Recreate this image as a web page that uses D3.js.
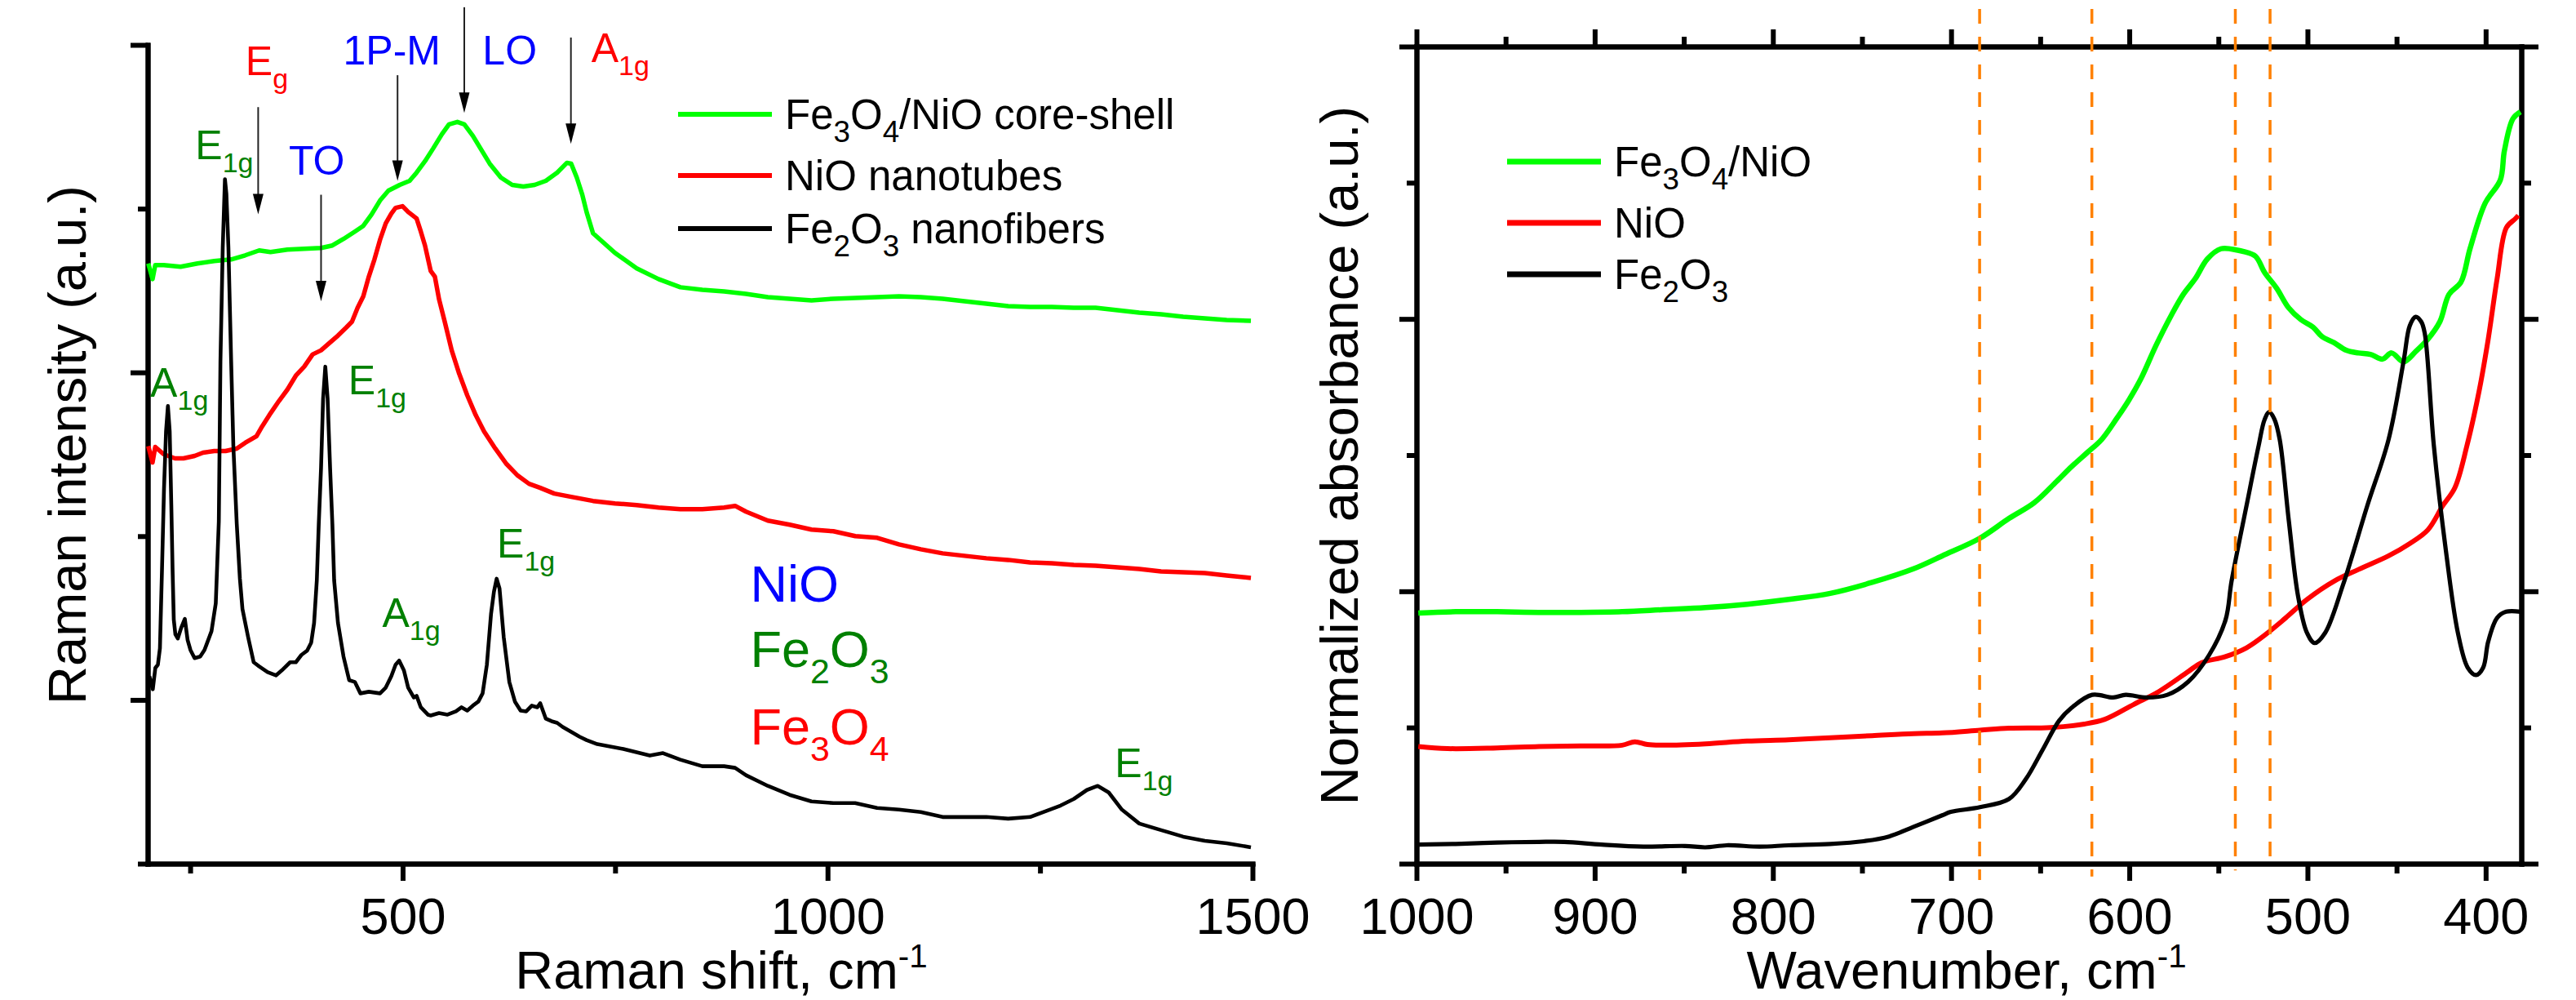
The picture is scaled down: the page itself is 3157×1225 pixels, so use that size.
<!DOCTYPE html>
<html>
<head>
<meta charset="utf-8">
<script src="https://cdn.jsdelivr.net/npm/d3@7"></script>
<style>
  body { margin: 0; background: #fff; }
  text { font-family: "Liberation Sans", Arial, sans-serif; }
</style>
</head>
<body>
<div id="chart-area"></div>
<script>
/*
*    Raman spectra (left) and absorbance spectra (right)
*/

// ---- Raman data (x in cm-1, y in a.u.)
var ramanCoreShellX = [200.7, 205.7, 208.9, 218.9, 238.7, 258.6, 278.3, 298.2, 314.7, 331.2,
  344.5, 364.4, 384.2, 404, 417.3, 430.4, 443.7, 453.7, 463.5, 473.4,
  483.3, 496.6, 508.2, 516.4, 526.3, 536.2, 546.2, 554.5, 564.4, 572.6,
  582.6, 592.5, 602.4, 615.6, 628.9, 642, 655.3, 668.5, 681.8, 693.3,
  698.3, 704.9, 711.4, 716.4, 724, 749.8, 775.4, 801.1, 826.8, 852.6,
  878.3, 904, 929.7, 955.4, 981.1, 1006.8, 1032.6, 1058.3, 1084, 1109.7,
  1135.4, 1161.1, 1186.8, 1212.5, 1238.3, 1263.8, 1289.7, 1315.3, 1341.1, 1366.8,
  1392.4, 1418.4, 1443.9, 1469.6, 1498.1];
var ramanCoreShellY = [733, 714, 731, 731, 729, 733, 736, 738, 743, 749,
  747, 750, 751, 752, 755, 763, 772, 779, 793, 810,
  822, 829, 834, 844, 858, 874, 891, 903, 906, 903,
  889, 872, 855, 838, 829, 827, 829, 834, 844, 856,
  855, 838, 817, 796, 770, 746, 727, 714, 704, 701,
  699, 696, 692, 690, 688, 690, 691, 692, 693, 692,
  690, 687, 684, 681, 680, 680, 679, 679, 676, 673,
  671, 668, 666, 664, 663];

var ramanNiOX = [200.7, 205.7, 208.9, 218.9, 232.1, 242.1, 255.2, 265.2, 278.3, 291.6,
  304.8, 314.7, 328, 334.6, 344.5, 354.4, 364.4, 374.3, 384.2, 394.1,
  404, 413.9, 423.9, 433.8, 440.4, 447, 453.7, 460.2, 466.8, 473.4,
  480.1, 486.7, 491.7, 499.9, 506.5, 516.4, 521.4, 526.3, 533, 537.9,
  542.9, 549.5, 557.7, 566, 576, 585.9, 595.8, 609, 622.3, 635.4,
  648.7, 661.9, 678.4, 698.3, 724, 749.8, 775.4, 801.1, 826.8, 852.6,
  878.3, 891.2, 904, 929.7, 955.4, 981.1, 1006.8, 1032.6, 1058.3, 1084,
  1109.7, 1135.4, 1161.1, 1186.8, 1212.5, 1238.3, 1263.8, 1289.7, 1315.3, 1341.1,
  1366.8, 1392.4, 1418.4, 1443.9, 1469.6, 1498.1];
var ramanNiOY = [510, 490, 509, 500, 495, 495, 498, 502, 504, 504,
  507, 514, 522, 534, 550, 565, 579, 596, 607, 622,
  627, 636, 645, 655, 662, 679, 693, 717, 738, 762,
  782, 794, 801, 803, 796, 788, 772, 755, 724, 717,
  689, 662, 627, 600, 572, 548, 528, 507, 488, 474,
  464, 459, 452, 448, 443, 440, 438, 435, 433, 433,
  435, 437, 430, 419, 414, 408, 406, 400, 398, 390,
  384, 379, 376, 373, 371, 368, 367, 365, 364, 362,
  360, 357, 356, 355, 352, 349];

var ramanFe2O3X = [202, 206, 209, 212, 214.4, 216.8, 219.2, 221.6, 223.8, 225.9,
  227.8, 229.3, 230.7, 232.6, 235.4, 239.4, 243.7, 247, 250.3, 255.2,
  261.8, 266.8, 270.1, 275.1, 280.1, 283.7, 285.6, 288.3, 290.9, 292.6,
  295, 298.2, 300.8, 304.8, 308.5, 311.5, 318.1, 324.7, 331.2, 341.1,
  351.1, 357.7, 367.6, 374.3, 380.9, 387.5, 392.4, 395.8, 399, 401.3,
  404, 406.4, 409, 411.7, 414.6, 417.3, 419.4, 423.9, 430.4, 437.1,
  443.7, 450.3, 460.2, 473.4, 480.1, 486.7, 491.7, 495.9, 501.5, 506.5,
  513.1, 516.4, 521.4, 529.7, 533, 542.8, 552.8, 562.7, 569.3, 576,
  582.6, 589.1, 594.1, 599.1, 604, 607.4, 610.6, 614, 618.9, 625.5,
  632.1, 638.8, 645.4, 652, 658.5, 661.9, 668.5, 675.2, 681.8, 688.3,
  698.3, 708.2, 716.4, 729, 759.7, 790.8, 806.3, 826.8, 852.6, 878.3,
  891.2, 904, 929.7, 955.4, 981.1, 1006.8, 1032.4, 1058.3, 1084, 1109.7,
  1135.4, 1161.1, 1186.8, 1212.5, 1238.3, 1253.7, 1274.2, 1289.7, 1305.1, 1317.9,
  1330.8, 1346.3, 1366.8, 1392.4, 1418.4, 1443.9, 1469.7, 1498.1];
var ramanFe2O3Y = [229, 213, 239, 243, 263, 358, 458, 528, 559, 528,
  438, 358, 298, 280, 275, 288, 299, 273, 261, 251,
  253, 261, 270, 284, 318, 418, 614, 752, 836, 818,
  752, 614, 510, 415, 348, 311, 277, 246, 241, 234,
  230, 236, 246, 246, 255, 260, 270, 294, 346, 415,
  484, 568, 607, 568, 484, 415, 346, 294, 253, 224,
  222, 208, 210, 208, 215, 229, 243, 248, 236, 215,
  203, 205, 191, 182, 181, 184, 182, 186, 191, 187,
  193, 198, 208, 243, 305, 332, 348, 336, 277, 222,
  198, 187, 186, 193, 191, 196, 177, 174, 172, 167,
  161, 155, 151, 146, 140, 132, 135, 127, 119, 119,
  117, 108, 95, 84, 76, 74, 74, 68, 66, 63,
  57, 57, 57, 55, 57, 63, 71, 79, 90, 95,
  87, 66, 49, 41, 33, 28, 25, 20];

var ramanLegend = ["Fe_{3}O_{4}/NiO core-shell", "NiO nanotubes", "Fe_{2}O_{3} nanofibers"];
var ramanMajorTicks = [500, 1000, 1500];
var ramanMinorTicks = [250, 750, 1250];
var ramanYMajor = [200, 600, 1000];
var ramanYMinor = [0, 400, 800];

// peak assignments: text, position (cm-1, a.u.) and phase
var peakText = ["E_{g}", "1P-M", "LO", "A_{1g}", "E_{1g}", "TO", "A_{1g}", "E_{1g}", "A_{1g}", "E_{1g}", "E_{1g}"];
var peakX = [315, 430, 594, 722, 256, 366, 203, 436, 476, 611, 1338];
var peakY = [963, 976, 976, 979, 860, 841, 570, 573, 289, 374, 106];
var peakPhase = ["Fe3O4", "NiO", "NiO", "Fe3O4", "Fe2O3", "NiO", "Fe2O3", "Fe2O3", "Fe2O3", "Fe2O3", "Fe2O3"];
var phaseNames = ["NiO", "Fe2O3", "Fe3O4"];
var phaseText = ["NiO", "Fe_{2}O_{3}", "Fe_{3}O_{4}"];
var phaseX = [909, 909, 909];
var phaseY = [320, 240, 146];

var arrowX = [330, 404, 494, 572.5, 698];
var arrowTop = [924, 817, 963, 1046, 1009];
var arrowTip = [793, 687, 834, 917, 879];

// ---- absorbance data (x in cm-1, y normalized)
var uvCoreShellX = [999, 978, 954.7, 931.3, 907.9, 884.6, 861.2, 837.9, 814.5, 791.1,
  767.8, 744.4, 721.1, 705, 683.8, 667.5, 653.4, 640.9, 632.4, 623.9,
  615.5, 607, 600.2, 593.5, 585, 576.5, 569.7, 563, 556.2, 548.6,
  539.2, 535.9, 529.2, 524, 517.3, 510.5, 503.7, 496.9, 491.8, 485,
  478.3, 471.4, 464.7, 457.9, 452.8, 446.1, 439.3, 432.5, 425.7, 420.6,
  413.9, 408.8, 400.3, 391.8, 389.5, 384.7, 380.5];
var uvCoreShellY = [0.368, 0.370, 0.370, 0.369, 0.369, 0.370, 0.373, 0.376, 0.381, 0.388,
  0.397, 0.413, 0.433, 0.452, 0.478, 0.507, 0.530, 0.561, 0.583, 0.603,
  0.623, 0.654, 0.681, 0.712, 0.761, 0.805, 0.836, 0.859, 0.888, 0.903,
  0.901, 0.899, 0.892, 0.868, 0.845, 0.816, 0.799, 0.788, 0.774, 0.765,
  0.754, 0.750, 0.748, 0.741, 0.750, 0.737, 0.752, 0.770, 0.796, 0.836,
  0.854, 0.903, 0.970, 1.004, 1.047, 1.094, 1.104];

var uvNiOX = [999, 982.6, 954.7, 931.3, 907.9, 884.6, 877.5, 870.4, 861.2, 837.9,
  814.5, 791.1, 767.8, 744.4, 721.1, 705, 683.8, 667.5, 644.1, 625.3,
  613.7, 597.4, 583.3, 567, 559.6, 546.1, 534.2, 522.3, 512.2, 500.3,
  485, 471.4, 454.5, 442.7, 432.5, 424, 417.3, 410.5, 403.7, 398.6,
  393.6, 388.4, 383.4, 381.7];
var uvNiOY = [0.172, 0.169, 0.170, 0.172, 0.173, 0.174, 0.179, 0.175, 0.174, 0.176,
  0.180, 0.182, 0.185, 0.188, 0.191, 0.192, 0.196, 0.199, 0.200, 0.205,
  0.212, 0.234, 0.253, 0.282, 0.295, 0.304, 0.317, 0.339, 0.361, 0.388,
  0.415, 0.432, 0.452, 0.470, 0.490, 0.526, 0.552, 0.614, 0.694, 0.770,
  0.859, 0.934, 0.947, 0.952];

var uvFe2O3X = [999, 978, 954.7, 931.3, 917.1, 896, 872.7, 849.3, 837.9, 826,
  807.4, 791.1, 767.8, 749, 734.8, 721.1, 705, 700.2, 683.8, 667.5,
  658.1, 648.7, 639.4, 632.4, 620.8, 609, 602, 590.4, 578.6, 567,
  555.3, 546, 542.6, 534.2, 527.4, 524.1, 521.5, 518.6, 515.6, 510.5,
  505.3, 500.3, 496, 490.1, 480, 466.4, 454.5, 446, 442.6, 439.3,
  436.2, 434.2, 429.1, 422.3, 415.6, 410.1, 405.4, 401.4, 398.6, 393.6,
  388.5, 380.5];
var uvFe2O3Y = [0.028, 0.029, 0.031, 0.032, 0.032, 0.028, 0.025, 0.026, 0.024, 0.027,
  0.025, 0.027, 0.029, 0.033, 0.040, 0.054, 0.071, 0.076, 0.083, 0.095,
  0.124, 0.167, 0.210, 0.229, 0.248, 0.244, 0.248, 0.244, 0.248, 0.267,
  0.306, 0.358, 0.415, 0.526, 0.614, 0.652, 0.663, 0.653, 0.623, 0.504,
  0.393, 0.339, 0.324, 0.339, 0.410, 0.526, 0.623, 0.739, 0.790, 0.803,
  0.796, 0.779, 0.614, 0.459, 0.339, 0.288, 0.277, 0.288, 0.326, 0.361,
  0.370, 0.370];

var uvLegend = ["Fe_{3}O_{4}/NiO", "NiO", "Fe_{2}O_{3}"];
var uvMarkers = [684, 621, 540.5, 521];
var uvMarkerTop = [1.255, 1.255, 1.255, 1.255];
var uvMarkerBottom = [-0.024, -0.019, -0.010, -0.005];
var uvMajorTicks = [1000, 900, 800, 700, 600, 500, 400];
var uvMinorTicks = [950, 850, 750, 650, 550, 450];
var uvYMajor = [0, 0.4, 0.8, 1.2];
var uvYMinor = [0.2, 0.6, 1.0];

var seriesColors = ["#00ff00", "#ff0000", "#000000"];
var phaseColor = { NiO: "#0000ff", Fe2O3: "#008000", Fe3O4: "#ff0000" };

// ---- drawing
var svg = d3.select("#chart-area")
  .append("svg")
  .attr("width", 3157)
  .attr("height", 1225)
  .style("display", "block")
  .style("background", "#fff");

var font = "'Liberation Sans', Arial, sans-serif";

var xL = d3.scaleLinear().domain([200, 1500]).range([181, 1535]);
var yL = d3.scaleLinear().domain([0, 1000]).range([1058, 55]);
var xR = d3.scaleLinear().domain([1000, 380]).range([1736, 3090]);
var yR = d3.scaleLinear().domain([0, 1.2]).range([1058, 57]);

// text with _{sub} and ^{sup}
function richText(sel, str, size, subScale) {
  var parts = str.split(/([_^]\{[^}]*\})/);
  var shift = 0;
  parts.forEach(function (p) {
    if (!p) return;
    var off = 0, fs = size;
    if (p[0] === "_") { off = 0.32 * size; fs = subScale * size; p = p.slice(2, -1); }
    else if (p[0] === "^") { off = -0.4 * size; fs = 0.62 * size; p = p.slice(2, -1); }
    sel.append("tspan").attr("dy", off - shift).attr("font-size", fs).text(p);
    shift = off;
  });
  return sel;
}

function addText(x, y, str, size, color, anchor, rotate) {
  var t = svg.append("text")
    .attr("font-family", font)
    .attr("fill", color || "#000")
    .attr("text-anchor", anchor || "start");
  if (rotate) t.attr("transform", "translate(" + x + "," + y + ") rotate(-90)");
  else t.attr("x", x).attr("y", y);
  return richText(t, str, size, 0.68);
}

function styleAxis(g) {
  g.attr("font-family", font).attr("font-size", 63);
  g.selectAll(".domain, .tick line").attr("stroke", "#000").attr("stroke-width", 6);
  g.select(".domain").attr("stroke-linecap", "square");
  g.selectAll(".tick text").attr("fill", "#000");
}

function axisPair(make, scale, major, minor, labels, transform) {
  var gMinor = svg.append("g").attr("transform", transform)
    .call(make(scale).tickValues(minor).tickSize(12).tickSizeOuter(0).tickFormat(""));
  styleAxis(gMinor);
  var gMajor = svg.append("g").attr("transform", transform)
    .call(make(scale).tickValues(major).tickSize(21).tickSizeOuter(0).tickPadding(20)
      .tickFormat(labels ? d3.format("d") : ""));
  styleAxis(gMajor);
}

// left panel axes
axisPair(d3.axisBottom, xL, ramanMajorTicks, ramanMinorTicks, true, "translate(0,1058)");
axisPair(d3.axisLeft, yL, ramanYMajor, ramanYMinor, false, "translate(181,0)");

// right panel frame
axisPair(d3.axisBottom, xR, uvMajorTicks, uvMinorTicks, true, "translate(0,1058)");
axisPair(d3.axisTop, xR, uvMajorTicks, uvMinorTicks, false, "translate(0,57)");
axisPair(d3.axisLeft, yR, uvYMajor, uvYMinor, false, "translate(1736,0)");
axisPair(d3.axisRight, yR, uvYMajor, uvYMinor, false, "translate(3090,0)");

// left panel curves
var lineL = d3.line().x(function (d) { return xL(d[0]); }).y(function (d) { return yL(d[1]); });
var ramanSeries = [
  d3.zip(ramanCoreShellX, ramanCoreShellY),
  d3.zip(ramanNiOX, ramanNiOY),
  d3.zip(ramanFe2O3X, ramanFe2O3Y)
];
var ramanWidths = [5.5, 5.5, 4.6];
ramanSeries.forEach(function (s, i) {
  svg.append("path").datum(s)
    .attr("d", lineL)
    .attr("fill", "none")
    .attr("stroke", seriesColors[i])
    .attr("stroke-width", ramanWidths[i])
    .attr("stroke-linejoin", "round");
});

// right panel curves
var lineR = d3.line().curve(d3.curveCatmullRom)
  .x(function (d) { return xR(d[0]); }).y(function (d) { return yR(d[1]); });
var uvSeries = [
  d3.zip(uvCoreShellX, uvCoreShellY),
  d3.zip(uvNiOX, uvNiOY),
  d3.zip(uvFe2O3X, uvFe2O3Y)
];
var uvWidths = [6.5, 6, 5.2];
uvSeries.forEach(function (s, i) {
  svg.append("path").datum(s)
    .attr("d", lineR)
    .attr("fill", "none")
    .attr("stroke", seriesColors[i])
    .attr("stroke-width", uvWidths[i])
    .attr("stroke-linejoin", "round");
});

// dashed markers
svg.selectAll("line.marker")
  .data(uvMarkers)
  .enter()
  .append("line")
  .attr("class", "marker")
  .attr("x1", function (d) { return xR(d); })
  .attr("x2", function (d) { return xR(d); })
  .attr("y1", function (d, i) { return yR(uvMarkerTop[i]); })
  .attr("y2", function (d, i) { return yR(uvMarkerBottom[i]); })
  .attr("stroke", "#ff8000")
  .attr("stroke-width", 3.5)
  .attr("stroke-dasharray", "18,16");

// arrows
arrowX.forEach(function (a, i) {
  var x = xL(a), y1 = yL(arrowTop[i]), y2 = yL(arrowTip[i]);
  svg.append("line")
    .attr("x1", x).attr("x2", x)
    .attr("y1", y1).attr("y2", y2 - 20)
    .attr("stroke", "#222").attr("stroke-width", 2);
  svg.append("path")
    .attr("d", "M" + (x - 6.5) + "," + (y2 - 25) + "L" + (x + 6.5) + "," + (y2 - 25) + "L" + x + "," + y2 + "Z")
    .attr("fill", "#000");
});

// peak labels
peakText.forEach(function (t, i) {
  addText(xL(peakX[i]), yL(peakY[i]), t, 50, phaseColor[peakPhase[i]]);
});
phaseText.forEach(function (t, i) {
  addText(xL(phaseX[i]), yL(phaseY[i]), t, 63, phaseColor[phaseNames[i]]);
});

// legends
var ramanLegendY = [140, 215, 280];
ramanLegend.forEach(function (t, i) {
  svg.append("line")
    .attr("x1", 831).attr("x2", 946)
    .attr("y1", ramanLegendY[i]).attr("y2", ramanLegendY[i])
    .attr("stroke", seriesColors[i]).attr("stroke-width", 6);
  var txt = svg.append("text").attr("x", 962).attr("y", ramanLegendY[i] + 18)
    .attr("font-family", font).attr("fill", "#000");
  richText(txt, t, 51, 0.72);
});

var uvLegendY = [198, 273, 336];
uvLegend.forEach(function (t, i) {
  svg.append("line")
    .attr("x1", 1847).attr("x2", 1962)
    .attr("y1", uvLegendY[i]).attr("y2", uvLegendY[i])
    .attr("stroke", seriesColors[i]).attr("stroke-width", 7);
  var txt = svg.append("text").attr("x", 1978).attr("y", uvLegendY[i] + 18)
    .attr("font-family", font).attr("fill", "#000");
  richText(txt, t, 51, 0.72);
});

// axis titles
addText(884, 1211, "Raman shift, cm^{-1}", 65, "#000", "middle");
addText(2410, 1211, "Wavenumber, cm^{-1}", 65, "#000", "middle");
addText(105, 545, "Raman intensity (a.u.)", 65, "#000", "middle", true);
addText(1664, 558, "Normalized absorbance (a.u.)", 65, "#000", "middle", true);
</script>
</body>
</html>
